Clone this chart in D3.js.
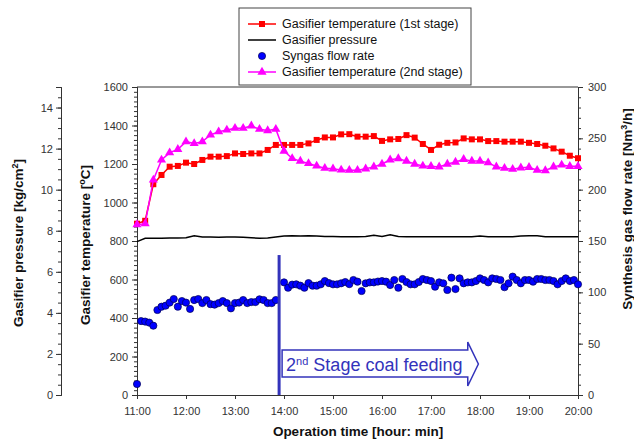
<!DOCTYPE html>
<html>
<head>
<meta charset="utf-8">
<script src="https://cdn.jsdelivr.net/npm/d3@7"></script>
<style>
  body { margin: 0; background: #fff; }
  text { font-family: Arial, "Liberation Sans", sans-serif; }
</style>
</head>
<body>
<div class="GasifierPlot"></div>
<script>
// time axis labels (hour: min), 11:00 .. 20:00
const timeTicks = ["11:00", "12:00", "13:00", "14:00", "15:00", "16:00", "17:00", "18:00", "19:00", "20:00"]

// temperatures, one reading every 10 min from 11:00
const temp1st = [890, 905, 1095, 1143, 1186, 1190, 1207, 1200, 1221, 1238, 1238, 1241, 1255, 1252, 1255, 1255, 1273, 1299, 1299, 1299, 1299,
  1307, 1325, 1338, 1338, 1354, 1355, 1342, 1342, 1345,
  1320, 1328, 1330, 1350, 1337, 1304, 1273, 1300, 1310, 1312, 1333, 1328, 1328, 1319,
  1319, 1316, 1316, 1316, 1310, 1304, 1295, 1281, 1264, 1243, 1230]
const temp2nd = [885, 890, 1117, 1221, 1259, 1276, 1316, 1307, 1316, 1351, 1368, 1377, 1386, 1386, 1398, 1381, 1374, 1381, 1267, 1229, 1215,
  1203, 1190, 1178, 1175, 1169, 1168, 1168, 1175, 1185, 1200,
  1222, 1228, 1215, 1200, 1190, 1188, 1185, 1200, 1210, 1224,
  1215, 1215, 1207, 1185, 1178, 1173, 1180, 1183, 1168, 1166,
  1185, 1195, 1188, 1188]
// gasifier pressure [kg/cm2], every 10 min
const pressure = [7.47, 7.63, 7.63, 7.63, 7.65, 7.65, 7.66, 7.76, 7.70, 7.70, 7.68, 7.70, 7.70, 7.68, 7.66, 7.63, 7.65, 7.70,
  7.74, 7.76, 7.74, 7.76, 7.74, 7.72, 7.72, 7.71, 7.71, 7.71, 7.72, 7.78, 7.72, 7.80, 7.72, 7.71, 7.71, 7.71,
  7.71, 7.71, 7.71, 7.71, 7.71, 7.71, 7.74, 7.71, 7.71, 7.71, 7.71, 7.74, 7.76, 7.76, 7.71, 7.71, 7.71, 7.71, 7.71]
// syngas flow rate [Nm3/h], every 5 min from 11:00 (no reading at 13:55)
const flowRate = [10.7, 72, 71.5, 70.5, 67.5, 82.8, 86, 87, 90, 93.5, 86, 91.5, 90, 83.8, 92.5, 93.5, 89.5, 92.5, 88.5, 88,
  89.5, 91.5, 89.5, 84.4, 89.5, 90, 92.5, 89.5, 90.5, 90.5, 93.2, 92.5, 89.5, 89.5, 92.5, null,
  109.7, 104.5, 107.5, 107.8, 106.5, 104.5, 109, 106.5, 106.5, 107.8,
  111, 109, 107.8, 107.8, 108.8, 110, 108, 112, 110.4, 101.3,
  108.8, 109.7, 109.7, 110.5, 111, 110.4, 107.1, 112, 104.5, 113,
  110, 107.8, 107.8, 110, 113, 112, 111,
  105.5, 109.7, 108.8, 102.3, 114.3, 103.2, 113.6, 108.8, 109.7, 109.7,
  111, 113.6, 112, 109.7, 113.6, 113, 112, 105, 108.8, 115.3,
  112, 108.8, 112, 112, 110.4, 113, 113, 112, 112, 111,
  107.8, 111, 113.6, 111, 112, 107.8]

const legendLabels = ["Gasifier temperature (1st stage)", "Gasifier pressure", "Syngas flow rate", "Gasifier temperature (2nd stage)"]
const feedTime = 174 // minutes after 11:00 (13:54)

const drawGasifierPlot = () => {
  const width = 634
  const height = 440
  const margin = ({top: 87, right: 56, bottom: 45, left: 137})

  let x = d3.scaleLinear()
    .domain([0, 540])
    .range([margin.left, width - margin.right])
  let yT = d3.scaleLinear().domain([0, 1600]).range([395, margin.top])
  let yP = d3.scaleLinear().domain([0, 15]).range([395, margin.top])
  let yF = d3.scaleLinear().domain([0, 300]).range([395, margin.top])

  const axisColor = "#333"
  const styleAxis = g => {
    g.selectAll(".domain").attr("stroke", axisColor)
    g.selectAll(".tick line").attr("stroke", axisColor)
    g.selectAll(".tick text").attr("fill", "#333").attr("font-size", 11)
      .attr("font-family", 'Arial, "Liberation Sans", sans-serif')
  }

  d3.select('.GasifierPlot > *').remove()
  const svg = d3.select(".GasifierPlot").append("svg")
    .attr("width", width)
    .attr("height", height)
    .attr("viewBox", [0, 0, width, height])

  // frame (top line)
  svg.append("line")
    .attr("x1", margin.left).attr("x2", width - margin.right)
    .attr("y1", margin.top).attr("y2", margin.top)
    .attr("stroke", axisColor)

  // bottom axis
  svg.append("g")
    .attr("transform", `translate(0,395)`)
    .call(d3.axisBottom(x).tickValues(d3.range(0, 541, 60)).tickSize(4).tickPadding(8)
      .tickFormat((d, i) => timeTicks[i]))
    .call(styleAxis)

  // left temperature axis, minor + major
  svg.append("g")
    .attr("transform", `translate(${margin.left},0)`)
    .call(d3.axisLeft(yT).tickValues(d3.range(0, 1601, 25)).tickSize(3).tickFormat(""))
    .call(styleAxis)
  svg.append("g")
    .attr("transform", `translate(${margin.left},0)`)
    .call(d3.axisLeft(yT).tickValues(d3.range(0, 1601, 200)).tickSize(5).tickPadding(4).tickFormat(d3.format("d")))
    .call(styleAxis)

  // pressure axis
  svg.append("g")
    .attr("transform", `translate(61,0)`)
    .call(d3.axisLeft(yP).tickValues(d3.range(0, 15.01, 0.5)).tickSize(3).tickFormat(""))
    .call(styleAxis)
  svg.append("g")
    .attr("transform", `translate(61,0)`)
    .call(d3.axisLeft(yP).tickValues(d3.range(0, 15, 2)).tickSize(5).tickPadding(3).tickFormat(d3.format("d")))
    .call(styleAxis)

  // right flow axis
  svg.append("g")
    .attr("transform", `translate(${width - margin.right},0)`)
    .call(d3.axisRight(yF).tickValues(d3.range(0, 301, 10)).tickSize(3).tickFormat(""))
    .call(styleAxis)
  svg.append("g")
    .attr("transform", `translate(${width - margin.right},0)`)
    .call(d3.axisRight(yF).tickValues(d3.range(0, 301, 50)).tickSize(5).tickPadding(5).tickFormat(d3.format("d")))
    .call(styleAxis)

  // axis titles
  const title = (tx, ty, rot, parts) => {
    const t = svg.append("text")
      .attr("text-anchor", "middle")
      .attr("font-weight", "bold")
      .attr("font-size", 13.5)
      .attr("fill", "#111")
      .attr("transform", `translate(${tx},${ty})` + (rot ? "rotate(-90)" : ""))
    parts.forEach(p => {
      const s = t.append("tspan").text(p[0])
      if (p[1]) s.attr("baseline-shift", "super").attr("font-size", 9)
    })
  }
  title(358, 436, false, [["Operation time [hour: min]"]])
  title(23, 243, true, [["Gasifier pressure [kg/cm"], ["2", true], ["]"]])
  title(90, 245, true, [["Gasifier temperature ["], ["o", true], ["C]"]])
  title(632, 209, true, [["Synthesis gas flow rate [Nm"], ["3", true], ["/h]"]])

  // series
  const t10 = (d, i) => i * 10
  const line1 = d3.line().x((d, i) => x(t10(d, i))).y(d => yT(d))
  const lineP = d3.line().x((d, i) => x(t10(d, i))).y(d => yP(d))

  svg.append("path").datum(temp1st)
    .attr("d", line1).attr("fill", "none").attr("stroke", "#ff0000").attr("stroke-width", 1.5)
  svg.append("g").attr("fill", "#ff0000")
    .selectAll("rect").data(temp1st).join("rect")
    .attr("x", (d, i) => x(t10(d, i)) - 3).attr("y", d => yT(d) - 3)
    .attr("width", 6).attr("height", 6)

  svg.append("path").datum(pressure)
    .attr("d", lineP).attr("fill", "none").attr("stroke", "#000").attr("stroke-width", 1.5)

  svg.append("g")
    .attr("fill", "#0000ff").attr("stroke", "#000050").attr("stroke-width", 0.7)
    .selectAll("circle")
    .data(flowRate.map((v, i) => ({t: i * 5, v})).filter(d => d.v !== null))
    .join("circle")
    .attr("cx", d => x(d.t)).attr("cy", d => yF(d.v)).attr("r", 3.6)

  svg.append("path").datum(temp2nd)
    .attr("d", line1).attr("fill", "none").attr("stroke", "#ff00ff").attr("stroke-width", 1.5)
  const tri = d3.symbol().type(d3.symbolTriangle).size(36)
  svg.append("g").attr("fill", "#ff00ff")
    .selectAll("path").data(temp2nd).join("path")
    .attr("d", tri)
    .attr("transform", (d, i) => `translate(${x(t10(d, i))},${yT(d)})`)

  // 2nd stage coal feeding marker
  const fx = x(feedTime)
  const blue = "#3333bb"
  svg.append("line")
    .attr("x1", fx).attr("x2", fx)
    .attr("y1", yT(727)).attr("y2", yT(0))
    .attr("stroke", blue).attr("stroke-width", 3)

  const ax0 = fx + 3, axHead = x(405), axTip = x(418)
  const yTop = yT(234), yBot = yT(94), yHT = yT(275), yHB = yT(47), yMid = yT(161)
  svg.append("polygon")
    .attr("points", [[ax0, yTop], [axHead, yTop], [axHead, yHT], [axTip, yMid], [axHead, yHB], [axHead, yBot], [ax0, yBot]].join(" "))
    .attr("fill", "#fff").attr("stroke", blue).attr("stroke-width", 1.5)
  const ft = svg.append("text")
    .attr("x", fx + 7).attr("y", yT(125))
    .attr("font-size", 18).attr("fill", blue)
  ft.append("tspan").text("2")
  ft.append("tspan").text("nd").attr("baseline-shift", "super").attr("font-size", 11)
  ft.append("tspan").text(" Stage coal feeding")

  // legend
  const lg = svg.append("g")
  lg.append("rect").attr("x", 239).attr("y", 8).attr("width", 232).attr("height", 77)
    .attr("fill", "#fff").attr("stroke", "#444")
  const rows = lg.selectAll("g").data(legendLabels).join("g")
    .attr("transform", (d, i) => `translate(248,${24 + i * 16})`)
  rows.append("text").attr("x", 34).attr("dy", "0.35em").attr("font-size", 12.5).attr("fill", "#111").text(d => d)
  rows.filter((d, i) => i !== 2).append("line")
    .attr("x1", 0).attr("x2", 28)
    .attr("stroke", (d, i) => ["#ff0000", "#000", "#ff00ff"][i]).attr("stroke-width", 1.5)
  rows.filter((d, i) => i === 0).append("rect").attr("x", 11).attr("y", -3).attr("width", 6).attr("height", 6).attr("fill", "#ff0000")
  rows.filter((d, i) => i === 2).append("circle").attr("cx", 14).attr("r", 3.6)
    .attr("fill", "#0000ff").attr("stroke", "#000050").attr("stroke-width", 0.7)
  rows.filter((d, i) => i === 3).append("path").attr("d", tri).attr("transform", "translate(14,0)").attr("fill", "#ff00ff")

  svg.node()
}

drawGasifierPlot()
</script>
</body>
</html>
